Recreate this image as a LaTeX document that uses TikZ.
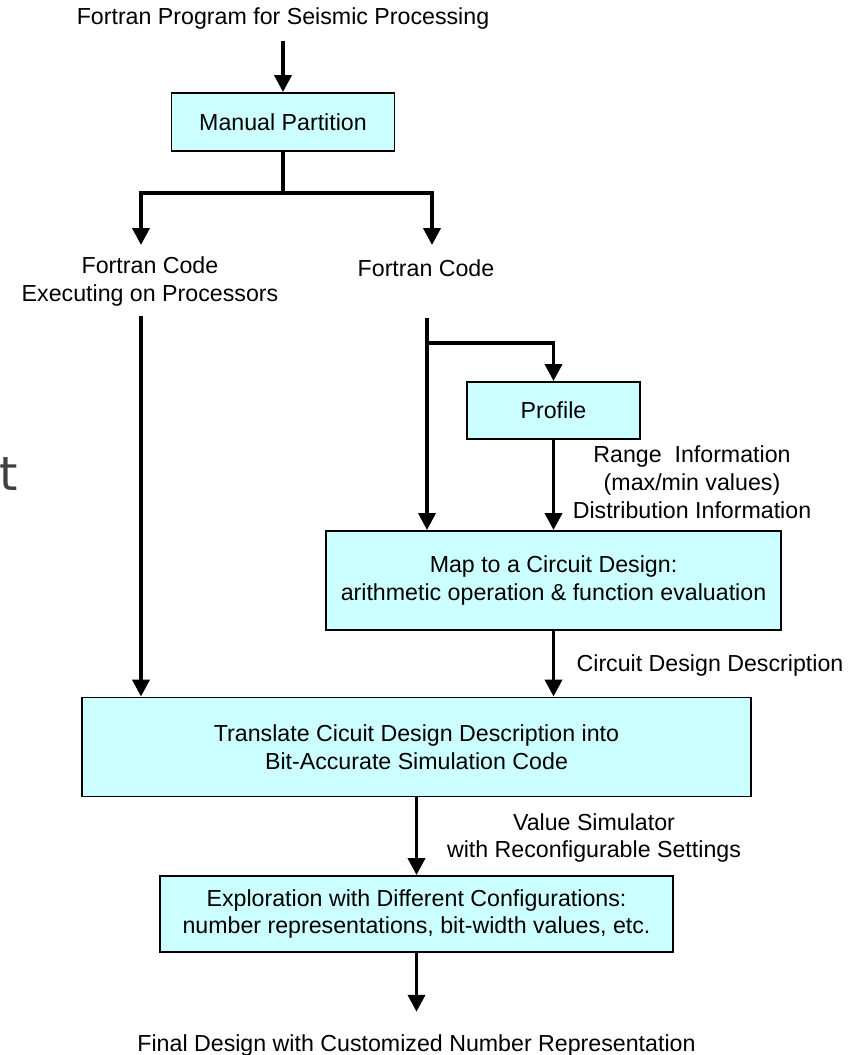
\documentclass[tikz,border=0pt]{standalone}
\usepackage{fontspec}
\setmainfont{Liberation Sans}
\newfontfamily\slidefont{DejaVu Sans}
\usetikzlibrary{arrows.meta, positioning, calc}
\definecolor{boxfill}{RGB}{204, 255, 255}
\definecolor{slidegray}{RGB}{64, 64, 64}

\begin{document}
\begin{tikzpicture}[x=0.02cm, y=-0.02cm,
    font=\fontsize{13.2}{15.8}\selectfont,
    box/.style={rectangle, draw=black, line width=1.1pt, fill=boxfill,
                align=center, inner sep=0pt},
    label/.style={align=center, inner sep=6pt},
    wire/.style={line width=2.2pt},
    flow/.style={line width=2.2pt, -{Triangle[length=0.34cm, width=0.34cm]}}]

\useasboundingbox (0,0) rectangle (852,1055);

% Slide title cut off at the left edge
\begin{scope}
\clip (0,0) rectangle (852,1055);
\node[anchor=base east, inner sep=0pt, text=slidegray,
      font=\slidefont\fontsize{26.7}{32}\selectfont] (title) at (18,490) {rt};
\end{scope}

% Source program and partition
\node[label] (source) at (283,19) {Fortran Program for Seismic Processing};
\node[box, minimum width=4.46cm, minimum height=1.16cm] (partition) at (283,122)
      {Manual Partition};
\draw[flow] (source) -- (partition);

% Split into host and hardware code
\coordinate (fork) at (283,193);
\coordinate (hostin) at (141,245);
\coordinate (fpgain) at (432,245);
\node[label] (hostcode) at (150,281.5) {Fortran Code\\Executing on Processors};
\node[label] (fpgacode) at (426,268) {Fortran Code};
\draw[wire] (partition) -- (fork);
\draw[flow] (fork) -| (hostin);
\draw[flow] (fork) -| (fpgain);

% Profiling and circuit mapping
\coordinate (fpgaout) at (427,318);
\coordinate (tap) at (427,343);
\node[box, minimum width=3.46cm, minimum height=1.14cm] (profile) at (553.5,410.5)
      {Profile};
\node[label] (profinfo) at (692,482)
      {Range~ Information\\(max/min values)\\Distribution Information};
\node[box, minimum width=9.1cm, minimum height=1.98cm] (map) at (553.5,580.5)
      {Map to a Circuit Design:\\arithmetic operation \& function evaluation};
\draw[flow] (fpgaout) -- (fpgaout |- map.north);
\draw[flow] (tap) -| (profile.north);
\draw[flow] (profile) -- (map);

% Bit-accurate simulation
\node[label] (mapinfo) at (710,665) {Circuit Design Description};
\node[box, minimum width=13.38cm, minimum height=1.98cm] (translate) at (416.5,747)
      {Translate Cicuit Design Description into\\Bit-Accurate Simulation Code};
\draw[flow] (map) -- (map |- translate.north);

\coordinate (hostout) at (141,316);
\draw[flow] (hostout) -- (hostout |- translate.north);

% Exploration and result
\node[label] (siminfo) at (594,838) {Value Simulator\\with Reconfigurable Settings};
\node[box, minimum width=10.26cm, minimum height=1.52cm] (explore) at (416.5,914)
      {Exploration with Different Configurations:\\number representations, bit-width values, etc.};
\draw[flow] (translate) -- (explore);

\node[label] (result) at (416.5,1045) {Final Design with Customized Number Representation};
\draw[flow, shorten >=0.23cm] (explore) -- (result);

\end{tikzpicture}
\end{document}
